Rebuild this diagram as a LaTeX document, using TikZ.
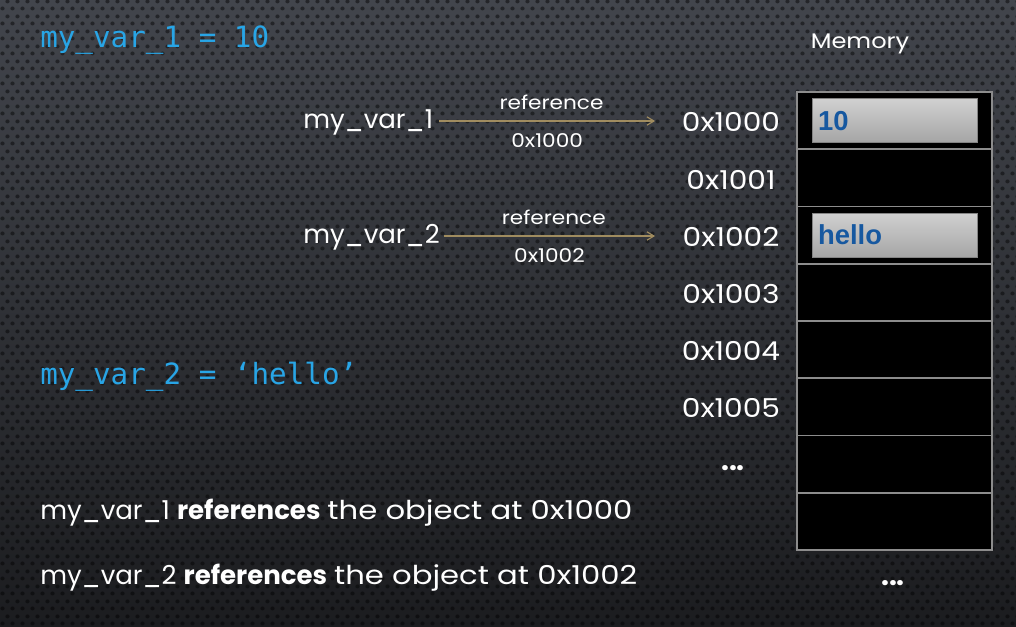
\documentclass[tikz,border=0pt]{standalone}
\usepackage{fontspec}
\setmainfont{Poppins}
\newfontfamily\widefont[FakeStretch=1.14]{Poppins}
\newfontfamily\widerfont[FakeStretch=1.18]{Poppins}
\newfontfamily\codefont{DejaVu Sans Mono}
\newfontfamily\valfont{Liberation Sans}
\usetikzlibrary{arrows.meta,patterns}

% perforated-metal dots: staggered rows
\pgfdeclarepatternformonly{perfdots}{\pgfpointorigin}{\pgfpoint{7.11pt}{10.67pt}}{\pgfpoint{7.11pt}{10.67pt}}{%
  \pgfpathcircle{\pgfpoint{1.78pt}{2.67pt}}{1.5pt}%
  \pgfpathcircle{\pgfpoint{5.33pt}{8.00pt}}{1.5pt}%
  \pgfusepath{fill}%
}

\definecolor{bgtop}{RGB}{66,69,76}
\definecolor{bgbot}{RGB}{27,28,31}
\definecolor{codeblue}{RGB}{40,165,230}
\definecolor{valblue}{RGB}{22,88,160}
\definecolor{arrowtan}{RGB}{160,140,95}
\definecolor{cellrule}{RGB}{140,140,140}
\definecolor{boxtop}{RGB}{208,208,208}
\definecolor{boxbot}{RGB}{165,165,165}

\tikzset{
  code/.style={anchor=west, text=codeblue, font=\codefont\fontsize{20.8pt}{24pt}\selectfont, inner sep=0pt},
  plain/.style={text=white, font=\fontsize{18.5pt}{22pt}\selectfont, inner sep=0pt},
  wide/.style={text=white, font=\widefont\fontsize{18.5pt}{22pt}\selectfont, inner sep=0pt},
  small/.style={text=white, font=\widefont\fontsize{13.5pt}{16pt}\selectfont, inner sep=0pt},
  addr/.style={wide, anchor=center},
  cell/.style={draw=cellrule, line width=1.4pt, fill=black, minimum width=195*0.025cm, minimum height=57.25*0.025cm, inner sep=0pt, outer sep=0pt},
  valbox/.style={top color=boxtop, bottom color=boxbot, draw=boxbot!80!black, line width=0.4pt,
    minimum width=165*0.025cm, minimum height=44*0.025cm, inner sep=0pt},
  valtext/.style={text=valblue, font=\valfont\bfseries\fontsize{19.5pt}{22pt}\selectfont, inner sep=0pt, anchor=west},
  refarrow/.style={draw=arrowtan, line width=0.8pt, -{Straight Barb[length=5pt, width=6pt]}},
  ellip/.style={text=white, font=\bfseries\fontsize{20pt}{22pt}\selectfont, inner sep=0pt}
}

\begin{document}
\begin{tikzpicture}[x=0.025cm, y=-0.025cm]
  % backdrop
  \useasboundingbox (0,0) rectangle (1016,626);
  \shade[top color=bgtop, bottom color=bgbot] (0,0) rectangle (1016,626);
  \fill[pattern=perfdots, pattern color=black, fill opacity=0.45] (0,0) rectangle (1016,626);

  % code lines
  \node[code] (c1) at (40,40) {my\_var\_1 = 10};
  \node[code] (c2) at (40,377) {my\_var\_2 = ‘hello’};

  % memory column
  \node[wide, font=\widefont\fontsize{15pt}{18pt}\selectfont] (mem) at (860,44) {Memory};
  \foreach \i in {0,...,7} {
    \node[cell] (cell\i) at (894.5, 92+57.25*\i+28.625) {};
  }
  \node[valbox] (v0) at (894.5,120.6) {};
  \node[valtext] at ([xshift=6*0.025cm]v0.west) {10};
  \node[valbox] (v2) at (894.5,235.1) {};
  \node[valtext] at ([xshift=6*0.025cm]v2.west) {hello};
  \node[ellip] (mdots) at (893,583) {...};

  % addresses
  \node[addr] (a0) at (731,122) {0x1000};
  \node[addr] (a1) at (731,180) {0x1001};
  \node[addr] (a2) at (731,237) {0x1002};
  \node[addr] (a3) at (731,294) {0x1003};
  \node[addr] (a4) at (731,351) {0x1004};
  \node[addr] (a5) at (731,408) {0x1005};
  \node[ellip] (adots) at (733,468) {...};

  % variables and their references
  \node[plain, anchor=west] (var1) at (303,122) {my\_var\_1};
  \node[plain, anchor=west] (var2) at (303,237) {my\_var\_2};
  \coordinate (t1) at (655,121);
  \coordinate (t2) at (655,236);
  \draw[refarrow] ([xshift=6*0.025cm]var1.east |- t1) -- (t1)
    node[small, pos=0.52, above=11*0.025cm] {reference}
    node[small, pos=0.50, below=12*0.025cm] {0x1000};
  \draw[refarrow] ([xshift=4*0.025cm]var2.east |- t2) -- (t2)
    node[small, pos=0.52, above=11*0.025cm] {reference}
    node[small, pos=0.50, below=12*0.025cm] {0x1002};

  % summary
  \node[plain, anchor=west] (s1) at (40,513)
    {my\_var\_1 \textbf{references} {\widerfont the object at 0x1000}};
  \node[plain, anchor=west] (s2) at (40,578)
    {my\_var\_2 \textbf{references} {\widerfont the object at 0x1002}};
\end{tikzpicture}
\end{document}
